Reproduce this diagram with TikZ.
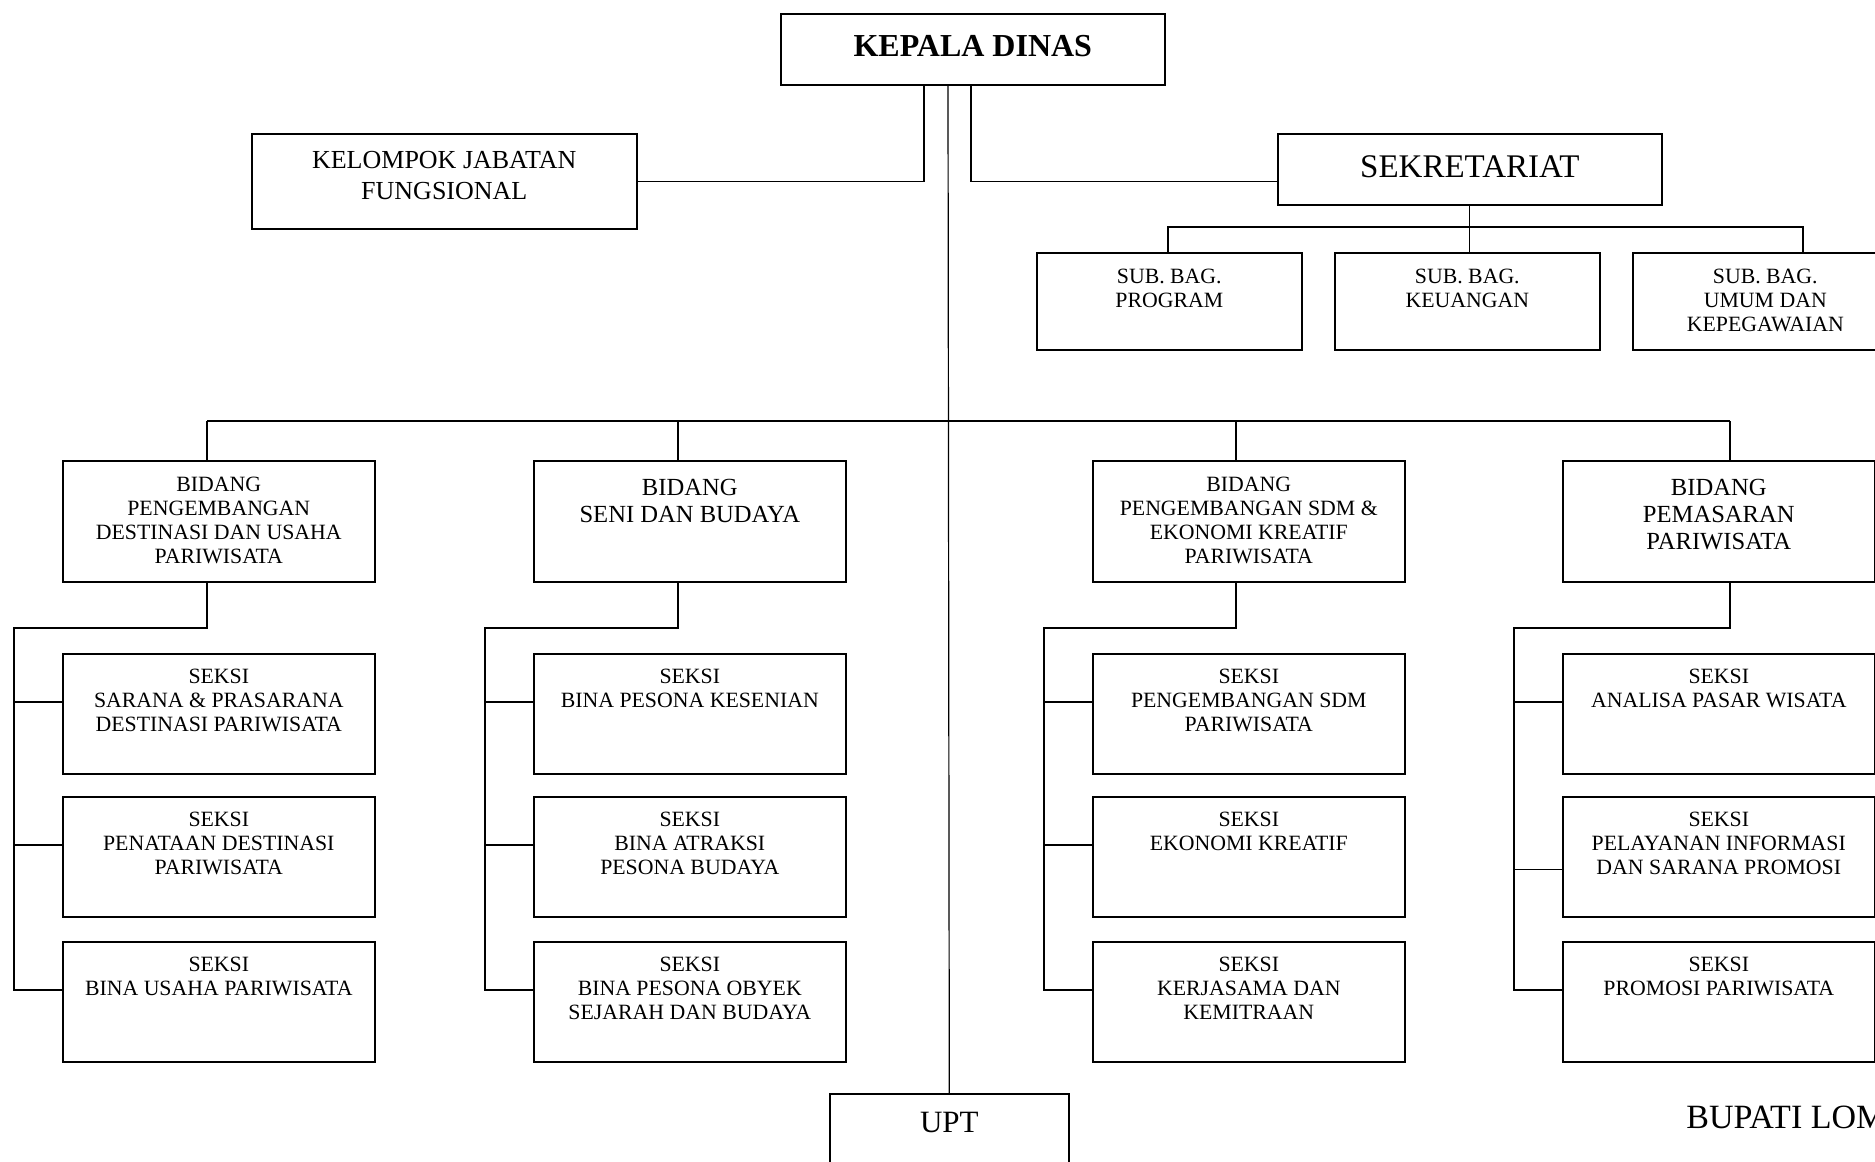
\documentclass[tikz,border=0pt]{standalone}
\usepackage{fontspec}
\setmainfont{Liberation Serif}
\usepackage{tikz}
\usetikzlibrary{positioning,calc}
\tikzset{
  unit box/.style={draw,line width=0.8pt,inner sep=0pt,anchor=north west},
  head box/.style={unit box,minimum width=192pt,minimum height=35.5pt},
  sub box/.style={unit box,minimum width=132.5pt,minimum height=48.5pt},
  field box/.style={unit box,minimum width=156pt,minimum height=60.5pt},
  section box/.style={unit box,minimum width=156pt,minimum height=60pt},
  top text/.style={anchor=north,inner sep=0pt,align=center,yshift=-7.9pt,font=\fontsize{10.9}{12}\selectfont},
  big text/.style={anchor=north,inner sep=0pt,align=center,yshift=-9.4pt,font=\fontsize{12.3}{13.5}\selectfont},
  link/.style={line width=0.75pt},
  trunk/.style={line width=0.6pt}
}

\begin{document}
\begin{tikzpicture}[x=0.5pt,y=-0.5pt]
  \useasboundingbox (0,0) rectangle (1875,1162);
  \clip (0,0) rectangle (1875,1162);

  % top level
  \node[head box,font=\fontsize{16}{18}\selectfont\bfseries] (kepala) at (780,13) {\raisebox{3.3pt}{KEPALA DINAS}};
  \node[head box,minimum height=47.5pt,minimum width=192.5pt,align=center,font=\fontsize{13}{15.5}\selectfont] (kelompok) at (251,133) {};
  \node[anchor=north,inner sep=0pt,align=center,yshift=-9pt,font=\fontsize{13}{15.5}\selectfont] (kelompoktext) at (kelompok.north) {KELOMPOK JABATAN\\FUNGSIONAL};
  \node[head box,font=\fontsize{16.5}{18}\selectfont] (sekretariat) at (1277,133) {\raisebox{3.2pt}{SEKRETARIAT}};

  % sub bagian
  \node[sub box,label={[top text,yshift=-0.5pt]north:{SUB. BAG.\\PROGRAM}}] (sb1) at (1036,252) {};
  \node[sub box,label={[top text,yshift=-0.5pt]north:{SUB. BAG.\\KEUANGAN}}] (sb2) at (1334,252) {};
  \node[sub box,label={[top text,yshift=-0.5pt]north:{SUB. BAG.\\UMUM DAN\\KEPEGAWAIAN}}] (sb3) at (1632,252) {};

  % bidang
  \node[field box,label={[top text,yshift=-0.5pt]north:{BIDANG\\PENGEMBANGAN\\DESTINASI DAN USAHA\\PARIWISATA}}] (b1) at (62,460) {};
  \node[field box,label={[big text]north:{BIDANG\\SENI DAN BUDAYA}}] (b2) at (533,460) {};
  \node[field box,label={[top text,yshift=-0.5pt]north:{BIDANG\\PENGEMBANGAN SDM \&\\EKONOMI KREATIF\\PARIWISATA}}] (b3) at (1092,460) {};
  \node[field box,label={[big text]north:{BIDANG\\PEMASARAN\\PARIWISATA}}] (b4) at (1562,460) {};

  % seksi
  \node[section box,label={[top text]north:{SEKSI\\SARANA \& PRASARANA\\DESTINASI PARIWISATA}}] (s11) at (62,653) {};
  \node[section box,label={[top text]north:{SEKSI\\PENATAAN DESTINASI\\PARIWISATA}}] (s12) at (62,796) {};
  \node[section box,label={[top text]north:{SEKSI\\BINA USAHA PARIWISATA}}] (s13) at (62,941) {};
  \node[section box,label={[top text]north:{SEKSI\\BINA PESONA KESENIAN}}] (s21) at (533,653) {};
  \node[section box,label={[top text]north:{SEKSI\\BINA ATRAKSI\\PESONA BUDAYA}}] (s22) at (533,796) {};
  \node[section box,label={[top text]north:{SEKSI\\BINA PESONA OBYEK\\SEJARAH DAN BUDAYA}}] (s23) at (533,941) {};
  \node[section box,label={[top text]north:{SEKSI\\PENGEMBANGAN SDM\\PARIWISATA}}] (s31) at (1092,653) {};
  \node[section box,label={[top text]north:{SEKSI\\EKONOMI KREATIF}}] (s32) at (1092,796) {};
  \node[section box,label={[top text]north:{SEKSI\\KERJASAMA DAN\\KEMITRAAN}}] (s33) at (1092,941) {};
  \node[section box,label={[top text]north:{SEKSI\\ANALISA PASAR WISATA}}] (s41) at (1562,653) {};
  \node[section box,label={[top text]north:{SEKSI\\PELAYANAN INFORMASI\\DAN SARANA PROMOSI}}] (s42) at (1562,796) {};
  \node[section box,label={[top text]north:{SEKSI\\PROMOSI PARIWISATA}}] (s43) at (1562,941) {};

  % upt and signature
  \node[unit box,minimum width=119.5pt,minimum height=50pt,label={[anchor=north,inner sep=0pt,yshift=-9.5pt,font=\fontsize{15.5}{18}\selectfont]north:UPT}] (upt) at (829,1093) {};
  \node[anchor=west,inner sep=0pt,font=\fontsize{17}{19}\selectfont] (bupati) at (1686,1117) {BUPATI LOM};

  % connectors from kepala dinas
  \coordinate (tapL) at (924,84);
  \coordinate (tapM) at (948,84);
  \coordinate (tapR) at (971,84);
  \draw[link] (tapL) |- (kelompok.east);
  \draw[link] (tapR) |- (kelompok.east -| sekretariat.west);
  \draw[trunk] (tapM) -- (upt.north);

  % sekretariat
  \coordinate (sbA) at (1168,227);
  \coordinate (sbC) at (1803,227);
  \draw[trunk] (sekretariat.south) -- (sekretariat.south |- sb2.north);
  \draw[link] (sbA |- sb1.north) -- (sbA) -- (sbC) -- (sbC |- sb3.north);

  % bidang and seksi
  \foreach \i/\x/\r in {1/207/14,2/678/485,3/1236/1044,4/1730/1514}{
    \coordinate (bus\i) at (\x,421);
    \coordinate (rail\i) at (\r,628);
    \draw[link] (bus\i) -- (bus\i |- b\i.north);
    \draw[link] (b\i.south -| bus\i) |- (rail\i) |- ([yshift=6pt]s\i3.west);
  }
  \draw[link] (bus1) -- (bus4);
  \foreach \i/\j/\dy in {1/1/6,1/2/6,2/1/6,2/2/6,3/1/6,3/2/6,4/1/6,4/2/-6.25}
    \draw[link] ([yshift=\dy pt]s\i\j.west) -- ++(-48,0);
\end{tikzpicture}
\end{document}
